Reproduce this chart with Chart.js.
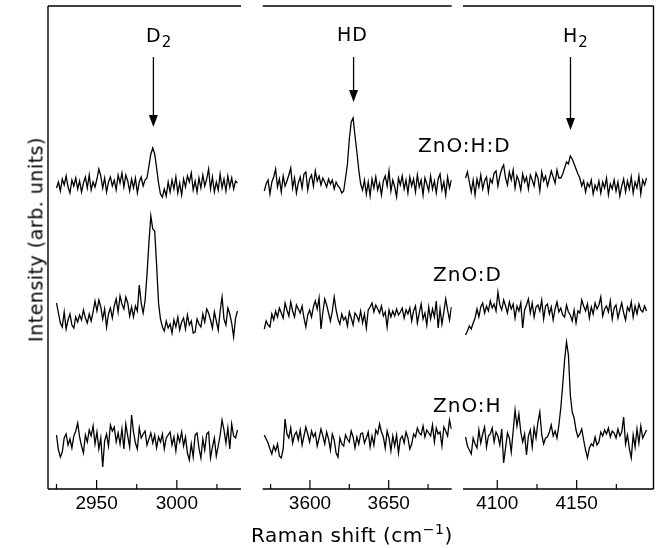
<!DOCTYPE html>
<html>
<head>
<meta charset="utf-8">
<script src="https://cdn.jsdelivr.net/npm/chart.js@4.4.0/dist/chart.umd.min.js"></script>
<style>
  body { margin: 0; background: #fff; }
  #wrap { position: relative; width: 657px; height: 548px; overflow: hidden; font-family: 'DejaVu Sans', sans-serif; color: #000; }
  canvas { position: absolute; top: 0; }
  .lbl { position: absolute; white-space: nowrap; line-height: 1; }
  .sub { font-size: 15px; position: relative; top: 5px; margin-left: 1px; }
  .sup { font-size: 14px; position: relative; top: -8px; }
</style>
</head>
<body>
<div id="wrap">
  <canvas id="panelD2" width="245" height="548" style="left:0"></canvas>
  <canvas id="panelHD" width="205" height="548" style="left:255px"></canvas>
  <canvas id="panelH2" width="200" height="548" style="left:457px"></canvas>

  <div class="lbl" style="left:146px;top:26px;font-size:19px">D<span class="sub">2</span></div>
  <div class="lbl" style="left:337px;top:25px;font-size:19px;letter-spacing:1px">HD</div>
  <div class="lbl" style="left:563px;top:26px;font-size:19px">H<span class="sub">2</span></div>

  <div class="lbl" style="left:418px;top:135px;font-size:20px;letter-spacing:1px">ZnO:H:D</div>
  <div class="lbl" style="left:433px;top:264px;font-size:20px;letter-spacing:1px">ZnO:D</div>
  <div class="lbl" style="left:433px;top:395px;font-size:20px;letter-spacing:1px">ZnO:H</div>

  <div class="lbl" style="left:251px;top:525px;font-size:20px;letter-spacing:0.5px">Raman shift (cm<span class="sup">−1</span>)</div>
  <div class="lbl" style="left:-94px;top:230px;width:260px;height:19px;text-align:center;font-size:19px;letter-spacing:0.5px;transform:rotate(-90deg)">Intensity (arb. units)</div>
</div>

<script>
// samples, top to bottom, and where each trace sits on the intensity axis
const sampleNames = ['ZnO:H:D', 'ZnO:D', 'ZnO:H'];
const sampleOffsets = [305, 174, 49];

// the three windows of Raman shift (cm-1)
const windowNames = ['D2', 'HD', 'H2'];
const windowMin = [2919.7, 3570, 4078.4];
const windowMax = [3040, 3690, 4198.4];
const windowStart = [2925, 3571, 4080];
const sampleStep = 1.2;

const tickValues = [
    [2925, 2950, 2975, 3000, 3025],
    [3575, 3600, 3625, 3650, 3675],
    [4100, 4125, 4150, 4175]
];
const tickLabels = [
    [2950, 3000],
    [3600, 3650],
    [4100, 4150]
];

// arrow positions (cm-1) and tips (intensity units)
const peakShifts = [2985.4, 3627.7, 4146.1];
const arrowTop = 432;
const arrowTips = [362, 387, 359];

// intensities above each trace's baseline
const hdD2 = [
    -4, 2, -7, 5, -1, 8, -3, -9, 4, -2,
    6, -5, 3, -8, 1, 7, -4, 9, -6, 2,
    -3, 5, 15, 8, -4, 6, -8, 2, 7, -2,
    4, -6, 9, 1, 11, -3, 9, 3, -7, 5,
    -4, 6, -9, 2, 7, -2, 4, 6, 18, 30,
    36, 30, 16, 1, -10, -13, -5, -12, 2, -8,
    4, -5, 7, -9, 1, -11, 5, -3, 8, 2,
    11, -6, 3, -8, 6, -4, 9, -2, 5, 15,
    -5, 7, -8, 2, -6, 10, -4, 5, -7, 8,
    -3, 6, -5, 3, 1
];
const dD2 = [
    12, 2, -8, -12, 3, -14, -5, 1, -10, -13,
    -2, -7, 0, -5, 5, -3, -8, 1, -6, 3,
    14, 4, 15, 8, -4, 6, -12, 1, 7, -3,
    9, 16, 3, 19, 11, 6, 18, 12, -1, 8,
    -2, 9, 4, 30, 12, 2, 14, 40, 72, 99,
    86, 84, 50, 12, -4, -12, -16, -6, -13, -9,
    -18, -5, -12, -2, -15, -7, -3, -14, 0, -10,
    -6, -18, -17, -4, -9, -12, 1, -7, 6, 2,
    -5, -13, 3, -6, -15, 4, 18, -4, -10, 7,
    1, -8, -22, -3, 4
];
const hD2 = [
    5, -10, -17, -12, 2, 6, -5, 1, -8, 4,
    9, 17, 3, -6, -13, 5, -2, 10, 4, 14,
    -4, 8, -9, 2, -27, -1, 6, -6, 15, 9,
    13, -2, 7, -4, 11, -9, 16, 4, -7, 25,
    8, -3, -9, 12, 2, 6, 9, -5, 1, 7,
    -3, 5, -8, 3, -2, 6, -9, 2, 5, 8,
    -5, 3, -11, 5, -2, 8, -6, 3, -13, -20,
    -4, -17, 5, 7, -8, -18, 1, -10, 6, 8,
    -18, -7, 2, -16, -6, 5, 20, 10, -3, 12,
    -9, 16, 4, 2, 10
];

const hdHD = [
    -7, 0, 4, -10, 2, 7, 15, -3, 5, -8,
    8, -2, 3, 9, 16, -4, 6, -9, 1, 7,
    -4, 10, 12, -6, 5, 9, -2, 13, 3, 8,
    -1, 6, 2, -3, 5, 0, 4, -5, 2, -2,
    -4, -9, -7, 6, 20, 45, 62, 66, 48, 32,
    14, 0, -6, 4, -10, 2, -12, 5, -4, 7,
    -6, 1, -11, 3, 8, -2, 13, -7, 4, -3,
    -13, 6, -1, 8, -5, 4, -9, 7, -2, 5,
    -8, 9, -3, 4, -11, 6, 0, -7, 8, -5,
    3, -9, 5, 10, -6, 2, -11, 7, -4, 4
];
const dHD = [
    -14, -6, -10, -12, 1, -5, 4, -2, 7, 2,
    -3, 12, 5, -1, 13, 4, -2, 10, 6, 2,
    9, -3, -12, 0, 5, -2, 8, 14, 6, 17,
    -14, 3, 16, 10, 2, -6, 4, 18, 5, -4,
    -9, 1, -5, -2, -11, 3, -3, -10, 2, -1,
    -6, 4, -8, 1, -13, 5, 8, 12, 3, 10,
    6, 2, 9, -1, 3, -12, 5, -2, 4, -1,
    6, 0, 3, 7, -3, 5, 1, 7, -6, 4,
    9, -8, 2, 11, -4, 2, -10, 8, -4, 6,
    -2, 14, -13, 6, -9, 3, 16, 5, -5, 8
];
const hHD = [
    5, 1, -3, -9, -14, -6, -11, -4, -16, -18,
    -9, 21, 6, 2, 12, -3, 5, 8, 0, 10,
    -5, 4, 13, 6, -2, 9, 3, 7, -6, 2,
    11, 4, -4, 8, 1, -10, 6, 0, -13, -17,
    2, -4, -6, 5, 1, -2, 9, 3, -8, 3,
    -4, 6, 7, -3, 2, 8, -7, 4, -5, 10,
    6, 16, 8, 3, -8, 9, 2, -11, 4, -6,
    5, -13, 1, 4, -3, 8, 2, -9, -4, 6,
    3, 12, 7, 5, 14, 3, 10, 7, 4, 15,
    -2, 12, 6, 8, -6, 13, 9, 4, 20, 11
];

const hdH2 = [
    6, 12, 2, -8, 4, -11, 5, -3, 9, -5,
    3, 7, -8, 5, 1, 11, 13, -2, 8, 15,
    19, 6, -1, 12, 4, 14, -4, 8, 3, -6,
    10, 2, 7, -5, 9, 4, -2, 11, 6, -7,
    12, 3, 8, -2, 5, 13, 7, 1, 14, 6,
    6, 10, 16, 22, 20, 28, 25, 20, 15, 10,
    6, -2, 3, -8, 1, -3, 4, -10, -1, -6,
    3, -9, 2, -4, 6, -11, 0, -5, 4, -7,
    2, -12, -2, 5, -8, 3, -5, 7, -9, 2,
    -4, 8, -10, 4, -1, 6
];
const dH2 = [
    -20, -16, -11, -14, -8, -3, 6, -2, 8, 12,
    2, 9, 4, 14, 7, 11, 4, 23, 10, 5,
    15, 9, 2, 13, 6, 11, -3, 9, 4, 12,
    -13, 5, 10, 16, 2, 12, -2, 8, 10, 4,
    15, -4, 9, 11, 1, 8, -5, 6, 13, 3,
    7, 0, -2, 10, 3, 0, -6, 5, -8, 4,
    2, 15, 9, 4, 11, -3, 8, 1, 12, 6,
    10, 18, -1, 6, 9, 3, 14, -4, 7, 10,
    -3, 5, 12, 2, -5, 8, 4, 13, -2, 9,
    1, 11, 5, 3, 9, 4
];
const hH2 = [
    3, -6, -10, -14, 2, -4, -8, 10, -3, 6,
    13, -7, 4, 6, 12, -2, 8, 4, -5, 11,
    -23, -8, 7, 2, -12, 9, 30, 14, 26, 8,
    -2, 6, -15, 4, 10, -7, 12, 2, 18, 28,
    5, -4, 2, 3, 8, 15, 4, 9, 2, 15,
    32, 55, 80, 98, 85, 45, 28, 22, 10, 3,
    6, 11, 0, -10, -18, -8, -4, -6, 3, -5,
    -2, 8, 4, 10, 6, 12, 3, 9, 7, 2,
    11, 4, 8, 23, -4, 5, -9, -18, 5, -7,
    11, -3, 14, 2, 6, 10
];

const spectra = [
    [hdD2, dD2, hD2],
    [hdHD, dHD, hHD],
    [hdH2, dH2, hH2]
];

const toPoints = (values, start, offset) =>
    values.map((v, i) => ({ x: start + i * sampleStep, y: offset + v }));

// frame, inward ticks and peak arrow for one panel
const makeFrame = (w, side) => ({
    id: 'frame' + w,
    afterDraw(chart) {
        const { ctx, chartArea: a, scales: { x, y } } = chart;
        ctx.save();
        ctx.strokeStyle = '#000';
        ctx.fillStyle = '#000';
        ctx.lineWidth = 1.4;
        ctx.beginPath();
        ctx.moveTo(a.left, a.top); ctx.lineTo(a.right, a.top);
        ctx.moveTo(a.left, a.bottom); ctx.lineTo(a.right, a.bottom);
        if (side === 'left') { ctx.moveTo(a.left, a.top); ctx.lineTo(a.left, a.bottom); }
        if (side === 'right') { ctx.moveTo(a.right, a.top); ctx.lineTo(a.right, a.bottom); }
        ctx.stroke();

        ctx.lineWidth = 1.2;
        tickValues[w].forEach(v => {
            const px = x.getPixelForValue(v);
            const len = tickLabels[w].includes(v) ? 9 : 5;
            ctx.beginPath();
            ctx.moveTo(px, a.bottom);
            ctx.lineTo(px, a.bottom - len);
            ctx.stroke();
        });

        const ax = x.getPixelForValue(peakShifts[w]);
        const y0 = y.getPixelForValue(arrowTop);
        const y1 = y.getPixelForValue(arrowTips[w]);
        ctx.lineWidth = 1.3;
        ctx.beginPath();
        ctx.moveTo(ax, y0);
        ctx.lineTo(ax, y1 - 8);
        ctx.stroke();
        ctx.beginPath();
        ctx.moveTo(ax, y1);
        ctx.lineTo(ax - 4.5, y1 - 12);
        ctx.lineTo(ax + 4.5, y1 - 12);
        ctx.closePath();
        ctx.fill();
        ctx.restore();
    }
});

const panels = [
    { id: 'panelD2', side: 'left', padding: { left: 48, right: 4, top: 6, bottom: 29 } },
    { id: 'panelHD', side: null, padding: { left: 7.7, right: 8.3, top: 6, bottom: 29 } },
    { id: 'panelH2', side: 'right', padding: { left: 6, right: 3.5, top: 6, bottom: 29 } }
];

panels.forEach((p, w) => {
    const ctx = document.getElementById(p.id).getContext('2d');
    new Chart(ctx, {
        type: 'line',
        data: {
            datasets: sampleNames.map((name, s) => ({
                label: name + ' ' + windowNames[w],
                data: toPoints(spectra[w][s], windowStart[w], sampleOffsets[s]),
                borderColor: '#000',
                borderWidth: 1.3,
                pointRadius: 0,
                tension: 0,
                fill: false
            }))
        },
        options: {
            responsive: false,
            animation: false,
            devicePixelRatio: 1,
            layout: { padding: p.padding },
            plugins: { legend: { display: false }, tooltip: { enabled: false } },
            scales: {
                x: {
                    type: 'linear',
                    min: windowMin[w],
                    max: windowMax[w],
                    afterBuildTicks: s => { s.ticks = tickLabels[w].map(v => ({ value: v })); },
                    afterFit: s => { s.height = 30; },
                    grid: { display: false, drawTicks: false },
                    border: { display: false },
                    ticks: {
                        font: { family: 'Liberation Sans', size: 19 },
                        color: '#000',
                        padding: 3,
                        maxRotation: 0,
                        autoSkip: false,
                        callback: v => String(v)
                    }
                },
                y: { display: false, min: 0, max: 483 }
            }
        },
        plugins: [makeFrame(w, p.side)]
    });
});
</script>
</body>
</html>
